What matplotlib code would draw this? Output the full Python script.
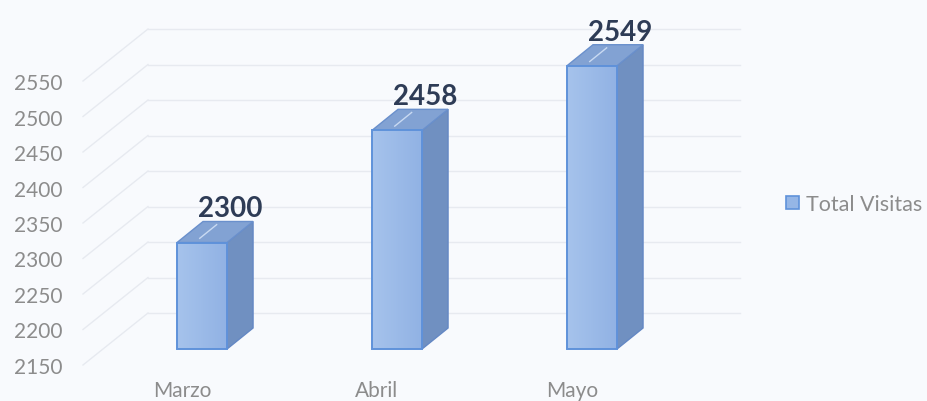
import matplotlib
matplotlib.use('Agg')
import matplotlib.pyplot as plt
import numpy as np
from matplotlib.patches import Polygon, Rectangle
from matplotlib.colors import LinearSegmentedColormap

# Datos del grafico
meses = ['Marzo', 'Abril', 'Mayo']
visitas = [2300, 2458, 2549]
ticks_y = [2150, 2200, 2250, 2300, 2350, 2400, 2450, 2500, 2550]
serie = 'Total Visitas'

plt.rcParams['font.family'] = ['Lato', 'DejaVu Sans']

W, H = 927, 402
fig = plt.figure(figsize=(W / 100, H / 100), dpi=100)
fig.patch.set_facecolor('#f8fafd')

# front floor edge of the 3D box in pixels: x 83..675, y 366..82
ax = fig.add_axes([83 / W, 36 / H, 592 / W, 284 / H])
ax.set_facecolor('none')
ax.set_xlim(-0.508, 2.528)
ax.set_ylim(ticks_y[0], ticks_y[-1])
for s in ax.spines.values():
    s.set_visible(False)

# pixel -> data scale
xl, xr = ax.get_xlim()
yb, yt = ax.get_ylim()
sx = ax.bbox.width / (xr - xl)
sy = ax.bbox.height / (yt - yb)

# 3D offsets (pixels converted to data units)
wall_dx, wall_dy = 65 / sx, 52 / sy      # front floor -> back wall
bar_ox, bar_oy = 20 / sx, 16 / sy        # front floor -> bar front face
dep_x, dep_y = 26 / sx, 21 / sy          # bar depth
bw = 50 / sx                             # bar width

# back wall gridlines and side wall diagonals
grid_c = '#e7eaf0'
for t in ticks_y:
    ax.plot([xl + wall_dx, xr + wall_dx], [t + wall_dy, t + wall_dy],
            color=grid_c, lw=1.0, clip_on=False, zorder=1)
    ax.plot([xl, xl + wall_dx], [t, t + wall_dy],
            color=grid_c, lw=1.0, clip_on=False, zorder=1)

cmap_front = LinearSegmentedColormap.from_list('front', ['#a6c3ec', '#91b2e4'])
grad = np.linspace(0, 1, 64).reshape(1, -1)

for i, v in enumerate(visitas):
    x0 = i - bw / 2 + bar_ox
    x1 = i + bw / 2 + bar_ox
    y0 = ticks_y[0] + bar_oy
    y1 = v + bar_oy

    side = Polygon([(x1, y0), (x1 + dep_x, y0 + dep_y), (x1 + dep_x, y1 + dep_y), (x1, y1)],
                   closed=True, facecolor='#7090c1', edgecolor='#6488c4', lw=1.0,
                   clip_on=False, zorder=3)
    ax.add_patch(side)
    top = Polygon([(x0, y1), (x0 + dep_x, y1 + dep_y), (x1 + dep_x, y1 + dep_y), (x1, y1)],
                  closed=True, facecolor='#82a2d3', edgecolor='#6a90cc', lw=1.0,
                  clip_on=False, zorder=3)
    ax.add_patch(top)
    # small highlight on the top face
    ax.plot([x0 + 0.35 * bw + 0.2 * dep_x, x0 + 0.35 * bw + 0.85 * dep_x],
            [y1 + 0.2 * dep_y, y1 + 0.85 * dep_y],
            color='#c9daf2', lw=1.0, clip_on=False, zorder=4)

    front = Rectangle((x0, y0), x1 - x0, y1 - y0, facecolor='none',
                      edgecolor='#5f92da', lw=1.4, zorder=5, clip_on=False)
    ax.add_patch(front)
    im = ax.imshow(grad, extent=[x0, x1, y0, y1], aspect='auto', cmap=cmap_front,
                   zorder=4, interpolation='bilinear')
    im.set_clip_path(front)

    ax.text(i + bar_ox + 28 / sx, y1 + dep_y + 5 / sy, str(v),
            ha='center', va='baseline', fontsize=20, fontweight='bold',
            color='#2e3c56', zorder=6, clip_on=False)

ax.set_xlim(xl, xr)
ax.set_ylim(yb, yt)

ax.set_yticks(ticks_y)
ax.set_yticklabels([str(t) for t in ticks_y])
ax.set_xticks(range(len(meses)))
ax.set_xticklabels(meses)
ax.tick_params(axis='y', length=0, pad=15, labelsize=15, labelcolor='#8c8c8c')
ax.tick_params(axis='x', length=0, pad=11, labelsize=15, labelcolor='#8c8c8c')

handle = Rectangle((0, 0), 1, 1, facecolor='#95b6e6', edgecolor='#5f92da', lw=1.2)
fig.legend([handle], [serie], loc='center left', bbox_to_anchor=(786 / W, 1 - 205 / H),
           frameon=False, fontsize=15.5, handlelength=0.6, handleheight=0.6,
           handletextpad=0.35, borderpad=0, borderaxespad=0, labelcolor='#8c8c8c')

fig.savefig('out.png', dpi=100, facecolor=fig.get_facecolor())
